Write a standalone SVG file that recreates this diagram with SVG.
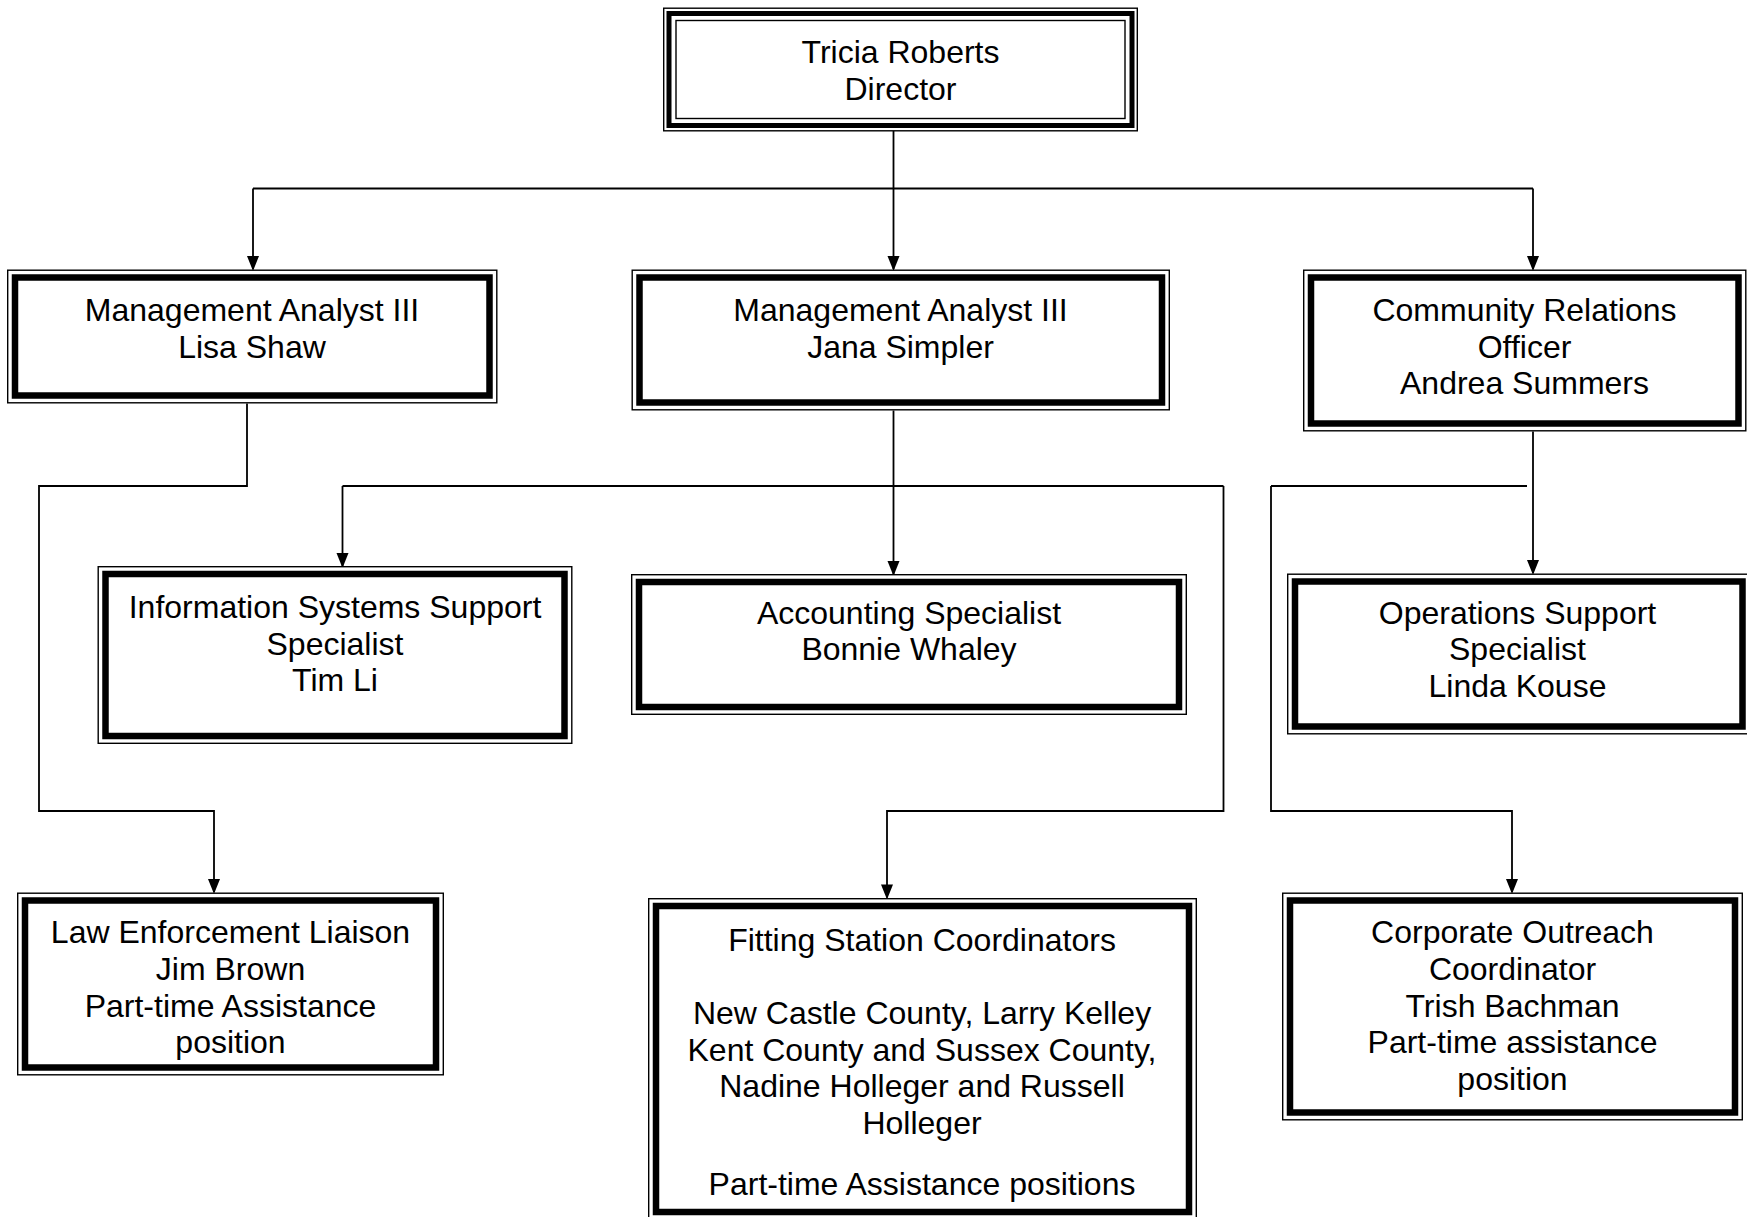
<svg xmlns="http://www.w3.org/2000/svg" width="1747" height="1217" viewBox="0 0 1747 1217">
<style>
.bg{fill:#fff}
.o{fill:#fff;stroke:#000;stroke-width:1.4}
.t{fill:none;stroke:#000;stroke-width:6.5}
.dt{fill:none;stroke:#000;stroke-width:5}
.i{fill:none;stroke:#000;stroke-width:1.4}
text{font-family:"Liberation Sans",Arial,sans-serif;font-size:32px;text-anchor:middle;fill:#000}
.c{fill:none;stroke:#000;stroke-width:1.8}
</style>
<defs>
<marker id="ah" markerUnits="userSpaceOnUse" markerWidth="15" markerHeight="12" refX="13" refY="6" orient="auto" overflow="visible">
<path d="M0,0 L15,6 L0,12 z" fill="#000"/>
</marker>
</defs>
<rect class="bg" x="0" y="0" width="1747" height="1217"/>
<g id="connectors">
<path class="c" d="M893.5,131 V269" marker-end="url(#ah)"/>
<path class="c" d="M253,188.5 H1533"/>
<path class="c" d="M253,188.5 V269" marker-end="url(#ah)"/>
<path class="c" d="M1533,188.5 V269" marker-end="url(#ah)"/>
<path class="c" d="M247,403.5 V486 H39 V811 H214 V892" marker-end="url(#ah)"/>
<path class="c" d="M893.5,410.5 V574" marker-end="url(#ah)"/>
<path class="c" d="M342.5,486 H1223.5"/>
<path class="c" d="M342.5,486 V566" marker-end="url(#ah)"/>
<path class="c" d="M1223.5,486 V811 H887 V897.5" marker-end="url(#ah)"/>
<path class="c" d="M1533,431.5 V573" marker-end="url(#ah)"/>
<path class="c" d="M1271,486 H1527"/>
<path class="c" d="M1271,486 V811 H1512 V892" marker-end="url(#ah)"/>
</g>
<g id="director">
<rect class="o" x="663.7" y="8.2" width="473.6" height="122.6"/>
<rect class="dt" x="669" y="13.5" width="463" height="112"/>
<rect class="i" x="676" y="20.5" width="449" height="98"/>
<text x="900.5" y="63">Tricia Roberts</text>
<text x="900.5" y="99.5">Director</text>
</g>
<g id="lisa">
<rect class="o" x="7.7" y="270.2" width="489.1" height="132.6"/>
<rect class="t" x="15" y="277.5" width="474.5" height="118"/>
<text x="252" y="321">Management Analyst III</text>
<text x="252" y="357.5">Lisa Shaw</text>
</g>
<g id="jana">
<rect class="o" x="632.2" y="270.2" width="537.1" height="139.6"/>
<rect class="t" x="639.5" y="277.5" width="522.5" height="125"/>
<text x="900.5" y="321">Management Analyst III</text>
<text x="900.5" y="357.5">Jana Simpler</text>
</g>
<g id="community">
<rect class="o" x="1303.7" y="270.2" width="442.1" height="160.6"/>
<rect class="t" x="1311" y="277.5" width="427.5" height="146"/>
<text x="1524.5" y="321">Community Relations</text>
<text x="1524.5" y="357.5">Officer</text>
<text x="1524.5" y="394">Andrea Summers</text>
</g>
<g id="info">
<rect class="o" x="98.2" y="566.7" width="473.6" height="176.6"/>
<rect class="t" x="105.5" y="574" width="459" height="162"/>
<text x="335" y="618">Information Systems Support</text>
<text x="335" y="654.5">Specialist</text>
<text x="335" y="691">Tim Li</text>
</g>
<g id="accounting">
<rect class="o" x="631.7" y="574.7" width="554.6" height="139.6"/>
<rect class="t" x="639" y="582" width="540" height="125"/>
<text x="909" y="623.5">Accounting Specialist</text>
<text x="909" y="660">Bonnie Whaley</text>
</g>
<g id="operations">
<rect class="o" x="1287.7" y="574.2" width="462" height="159.6"/>
<rect class="t" x="1295" y="581.5" width="447.5" height="145"/>
<text x="1517.5" y="623.5">Operations Support</text>
<text x="1517.5" y="660">Specialist</text>
<text x="1517.5" y="696.5">Linda Kouse</text>
</g>
<g id="law">
<rect class="o" x="17.7" y="893.2" width="425.6" height="181.6"/>
<rect class="t" x="25" y="900.5" width="411" height="167"/>
<text x="230.5" y="943">Law Enforcement Liaison</text>
<text x="230.5" y="980">Jim Brown</text>
<text x="230.5" y="1016.5">Part-time Assistance</text>
<text x="230.5" y="1053">position</text>
</g>
<g id="fitting">
<rect class="o" x="648.7" y="898.7" width="547.6" height="322"/>
<rect class="t" x="656" y="906" width="533" height="306"/>
<text x="922" y="951">Fitting Station Coordinators</text>
<text x="922" y="1024">New Castle County, Larry Kelley</text>
<text x="922" y="1060.5">Kent County and Sussex County,</text>
<text x="922" y="1097">Nadine Holleger and Russell</text>
<text x="922" y="1133.5">Holleger</text>
<text x="922" y="1194.5">Part-time Assistance positions</text>
</g>
<g id="corporate">
<rect class="o" x="1282.7" y="893.2" width="459.6" height="226.6"/>
<rect class="t" x="1290" y="900.5" width="445" height="212"/>
<text x="1512.5" y="943">Corporate Outreach</text>
<text x="1512.5" y="980">Coordinator</text>
<text x="1512.5" y="1016.5">Trish Bachman</text>
<text x="1512.5" y="1053">Part-time assistance</text>
<text x="1512.5" y="1089.5">position</text>
</g>
</svg>
